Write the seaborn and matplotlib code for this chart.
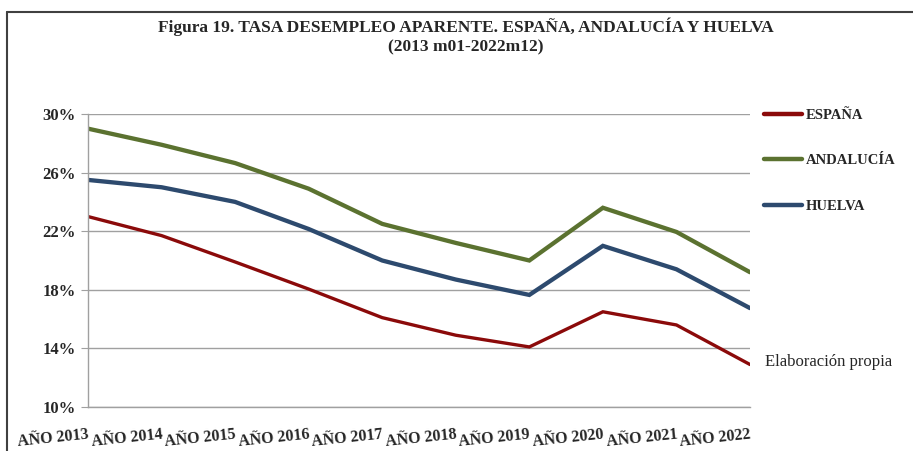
import numpy as np
import pandas as pd
import matplotlib.pyplot as plt
import seaborn as sns
from matplotlib.lines import Line2D

# datos (tasa de desempleo aparente, %)
years = ['AÑO 2013', 'AÑO 2014', 'AÑO 2015', 'AÑO 2016', 'AÑO 2017',
         'AÑO 2018', 'AÑO 2019', 'AÑO 2020', 'AÑO 2021', 'AÑO 2022']
espana = [23.0, 21.7, 19.9, 18.05, 16.1, 14.9, 14.1, 16.5, 15.6, 12.9]
andalucia = [29.0, 27.9, 26.65, 24.9, 22.5, 21.2, 20.0, 23.6, 21.95, 19.2]
huelva = [25.5, 25.0, 24.0, 22.15, 20.0, 18.7, 17.65, 21.0, 19.4, 16.75]
series = ['ESPAÑA', 'ANDALUCÍA', 'HUELVA']
colors = ['#8b0a0a', '#5b7230', '#2d4a6e']
y_ticks = [10, 14, 18, 22, 26, 30]

df = pd.DataFrame({'pos': list(range(len(years))) * 3,
                   'valor': espana + andalucia + huelva,
                   'serie': np.repeat(series, len(years))})

sns.set_style('white')
plt.rcParams['font.family'] = ['Liberation Serif', 'DejaVu Serif']

fig = plt.figure(figsize=(9.13, 4.51), dpi=100)
ax = fig.add_axes([88 / 913, 1 - 407 / 451, (750 - 88) / 913, (407 - 114) / 451])

sns.lineplot(data=df, x='pos', y='valor', hue='serie', hue_order=series,
             palette=colors, linewidth=3, ax=ax, legend=False)
for line, w in zip(ax.get_lines(), [2.4, 3.1, 3.1]):
    line.set_linewidth(w)
    line.set_solid_joinstyle('miter')

ax.set_xlim(0, len(years) - 1)
ax.set_ylim(10, 30)
ax.set_yticks(y_ticks)
ax.set_yticklabels([f'{v}%' for v in y_ticks], fontsize=12, fontweight='bold')
ax.yaxis.grid(True, color='#a0a0a0', linewidth=1)
ax.set_axisbelow(True)
ax.tick_params(axis='y', length=5, color='#a0a0a0', pad=4, left=True)

ax.set_xticks(range(len(years)))
ax.set_xticklabels(years, fontsize=11.5, fontweight='bold', rotation=6,
                   ha='right', rotation_mode='anchor')
ax.set_xticks([0, 2, 4, 6, 8], minor=True)
ax.tick_params(axis='x', which='major', length=0, pad=14)
ax.tick_params(axis='x', which='minor', length=5, color='#a0a0a0', bottom=True)
ax.set_xlabel('')
ax.set_ylabel('')
for s in ['top', 'right']:
    ax.spines[s].set_visible(False)
for s in ['left', 'bottom']:
    ax.spines[s].set_color('#a0a0a0')
    ax.spines[s].set_linewidth(1)

handles = [Line2D([0], [0], color=c, linewidth=3.2) for c in colors]
leg = ax.legend(handles, series, loc='upper left', bbox_to_anchor=(1.002, 1.062),
                frameon=False, labelspacing=2.2, handlelength=2.6,
                handletextpad=0.25, prop={'weight': 'bold', 'size': 10.5})

fig.text(765 / 913, 1 - 362 / 451, 'Elaboración propia', fontsize=12,
         va='center', ha='left')

fig.text(0.51, 1 - 27 / 451, 'Figura 19. TASA DESEMPLEO APARENTE. ESPAÑA, ANDALUCÍA Y HUELVA',
         fontsize=12.5, fontweight='bold', ha='center', va='center')
fig.text(0.51, 1 - 47 / 451, '(2013 m01-2022m12)',
         fontsize=12.5, fontweight='bold', ha='center', va='center')

# marco exterior (recortado a la izquierda y arriba)
fig.add_artist(Line2D([7 / 913, 7 / 913], [0, 1 - 12 / 451], color='#404040', linewidth=1.5))
fig.add_artist(Line2D([7 / 913, 1], [1 - 12 / 451, 1 - 12 / 451], color='#404040', linewidth=1.5))

fig.savefig('out.png', dpi=100)
